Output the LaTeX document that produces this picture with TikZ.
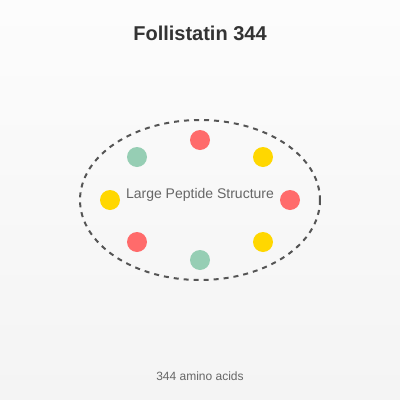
\documentclass[tikz,border=0pt]{standalone}
\usepackage{fontspec}
\setmainfont{Liberation Sans}
\definecolor{bgtop}{HTML}{FCFCFC}
\definecolor{bgbot}{HTML}{F4F4F4}
\definecolor{pred}{HTML}{FF6B6B}
\definecolor{pyel}{HTML}{FFD700}
\definecolor{pgrn}{HTML}{96CEB4}
\definecolor{ttl}{HTML}{333333}
\definecolor{txt}{HTML}{666666}
\definecolor{edge}{HTML}{555555}
\begin{document}
\begin{tikzpicture}[x=1pt,y=-1pt,
  bead/.style={circle,minimum size=20pt,inner sep=0pt},
  lbl/.style={inner sep=0pt,anchor=center}]
\useasboundingbox (0,0) rectangle (400,400);
\shade[top color=bgtop,bottom color=bgbot] (0,0) rectangle (400,400);
\node[lbl,font=\fontsize{20}{24}\selectfont\bfseries,text=ttl] (title) at (200,33) {Follistatin 344};
\draw[edge,line width=2pt,dash pattern=on 5pt off 5pt] (200,200) ellipse [x radius=120, y radius=80];
\node[lbl,font=\fontsize{14}{16}\selectfont,text=txt] (core) at (200,195) {Large Peptide Structure};
\node[bead,fill=pred] (b1) at (200,140) {};
\node[bead,fill=pyel] (b2) at (263,157) {};
\node[bead,fill=pred] (b3) at (290,200) {};
\node[bead,fill=pyel] (b4) at (263,242) {};
\node[bead,fill=pgrn] (b5) at (200,260) {};
\node[bead,fill=pred] (b6) at (137,242) {};
\node[bead,fill=pyel] (b7) at (110,200) {};
\node[bead,fill=pgrn] (b8) at (137,157) {};
\node[lbl,font=\fontsize{12}{14}\selectfont,text=txt] (len) at (200,376) {344 amino acids};
\end{tikzpicture}
\end{document}
